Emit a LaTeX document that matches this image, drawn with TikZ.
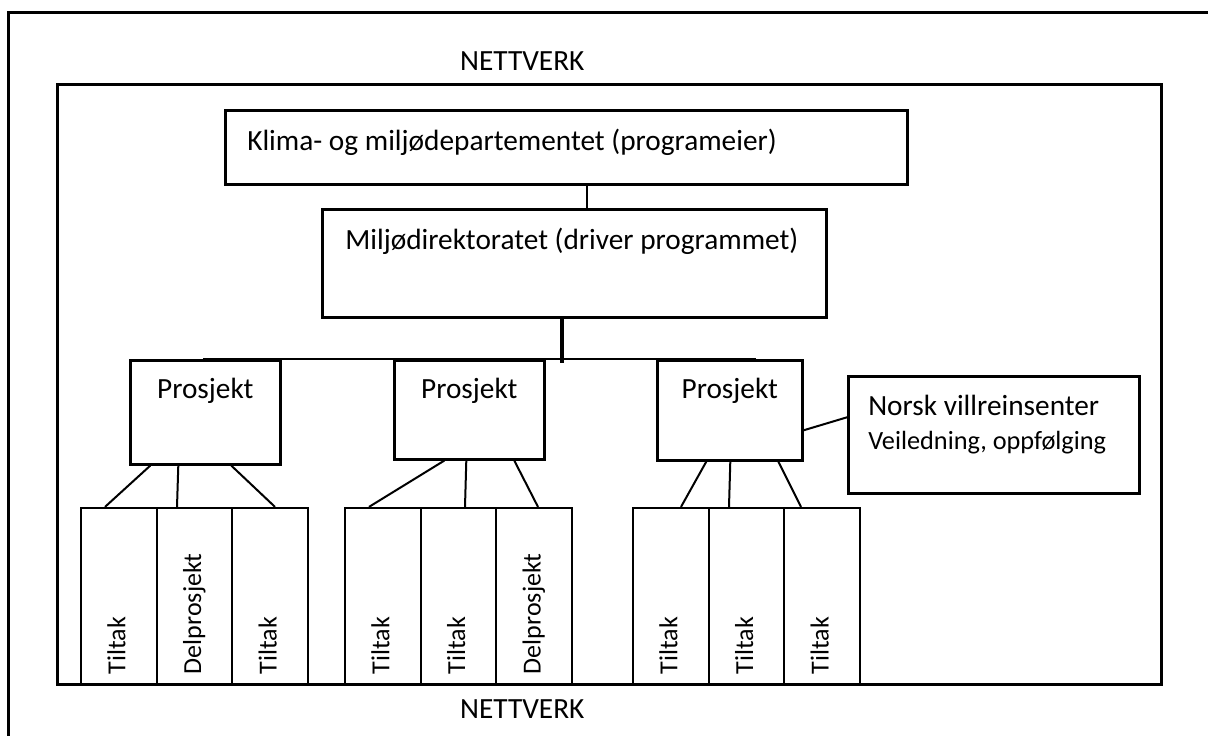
\documentclass[tikz,border=0pt]{standalone}
\usepackage{fontspec}
\setmainfont{Carlito}
\begin{document}
\begin{tikzpicture}[
    x=1pt, y=-1pt,
    font=\fontsize{29.3}{34}\selectfont,
    frame/.style={line width=3pt},
    box/.style={draw, line width=2.6pt, anchor=north west, inner ysep=0pt, align=flush left},
    proj/.style={draw, line width=2.6pt, anchor=north west, inner sep=0pt, align=flush center,
        text width=#1, text height=38pt},
    col/.style={draw, line width=2.2pt, rotate=90, inner xsep=10pt, inner ysep=0pt,
        minimum height=75.7pt, text width=156pt, align=flush left, text height=19pt,
        text depth=6pt, font=\fontsize{26}{30}\selectfont},
    link/.style={line width=2pt}
]
\useasboundingbox (0,0) rectangle (1208,736);

% Network frames
\draw[frame] (8,736) |- (1208,12);
\draw[frame] (57,84) rectangle (1161,684);
\node[anchor=base west, inner sep=0pt] (nettop) at (460,70) {NETTVERK};
\node[anchor=base west, inner sep=0pt] (netbot) at (460,718) {NETTVERK};

% Programme owner and driver
\node[box, text width=638pt, inner xsep=22pt, text height=40pt, text depth=34pt] (klima) at (224,109) {Klima- og miljødepartementet (programeier)};
\node[box, text width=458pt, inner xsep=23pt, text height=40pt, text depth=68pt] (miljo) at (321,208) {Miljødirektoratet (driver programmet)};

% Projects
\node[proj=150pt, text depth=66pt] (p1) at (129,359) {Prosjekt};
\node[proj=150pt, text depth=61pt] (p2) at (393,359) {Prosjekt};
\node[proj=145pt, text depth=62pt] (p3) at (656,359) {Prosjekt};
\node[box, text width=251pt, inner xsep=20pt, text height=39pt, text depth=78pt] (norsk) at (847,375) {Norsk villreinsenter\\\fontsize{26.3}{34}\selectfont Veiledning, oppfølging};

% Measures
\foreach \x/\l/\m/\r [count=\i] in {81/Tiltak/Delprosjekt/Tiltak, 345/Tiltak/Tiltak/Delprosjekt, 633/Tiltak/Tiltak/Tiltak} {
    \node[col] (t\i-a) at (\x+37.8,596) {\l};
    \node[col] (t\i-b) at (\x+113.5,596) {\m};
    \node[col] (t\i-c) at (\x+189.2,596) {\r};
}

% Links
\draw[link] ([xshift=21pt]klima.south) -- ([xshift=13pt]miljo.north);
\draw[line width=4pt] ([xshift=-12pt]miljo.south) -- ([xshift=93pt,yshift=-4pt]p2.north);
\draw[link] ([xshift=-2pt]p1.north) -- ([xshift=26pt]p3.north);
\draw[link] ([yshift=-20pt]p3.east) -- ([yshift=17.5pt]norsk.west);

\draw[link] ([xshift=-55pt]p1.south) -- ([xshift=-13.8pt]t1-a.east);
\draw[link] ([xshift=-27pt]p1.south) -- ([xshift=-17.5pt]t1-b.east);
\draw[link] ([xshift=26pt]p1.south) -- ([xshift=4.8pt]t1-c.east);

\draw[link] ([xshift=-25pt]p2.south) -- ([xshift=-13.8pt]t2-a.east);
\draw[link] ([xshift=-3pt]p2.south) -- ([xshift=6.5pt]t2-b.east);
\draw[link] ([xshift=45pt]p2.south) -- ([xshift=3.8pt]t2-c.east);

\draw[link] ([xshift=-23.5pt]p3.south) -- ([xshift=10.2pt]t3-a.east);
\draw[link] ([xshift=0.5pt]p3.south) -- ([xshift=-17.5pt]t3-b.east);
\draw[link] ([xshift=48.5pt]p3.south) -- ([xshift=-21.2pt]t3-c.east);

\end{tikzpicture}
\end{document}
